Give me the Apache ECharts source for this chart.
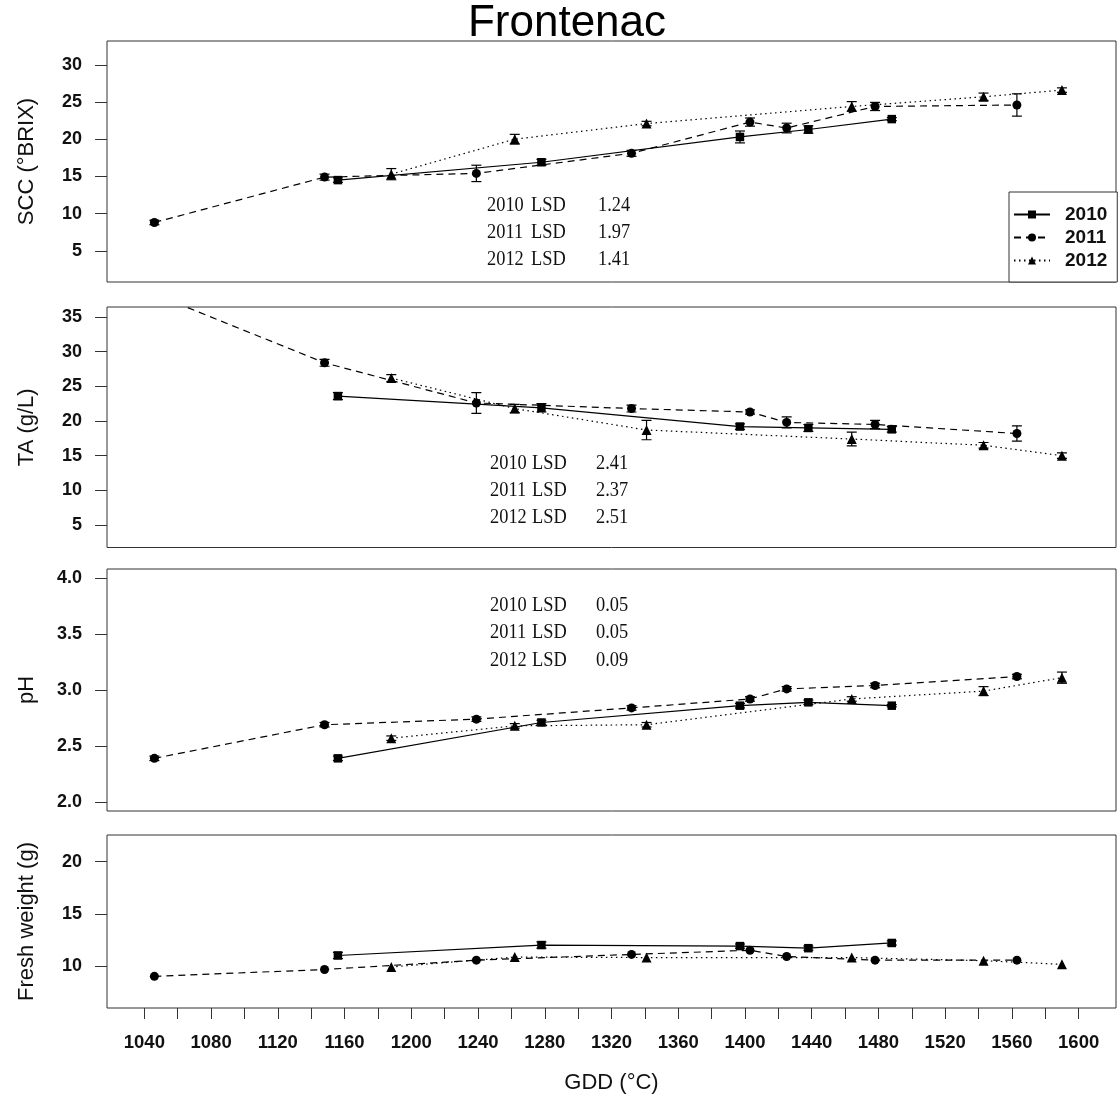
<!DOCTYPE html>
<html>
<head>
<meta charset="utf-8">
<title>Frontenac</title>
<script src="https://cdn.jsdelivr.net/npm/echarts@6/dist/echarts.min.js"></script>
<style>
  html, body { margin: 0; padding: 0; background: #fff; }
  #chart { width: 1120px; height: 1099px; }
</style>
</head>
<body>
<div id="chart"></div>
<script>
// Growing degree days (°C) at each sampling date, per season
const gdd2010 = [1156, 1278, 1397, 1438, 1488];
const gdd2011 = [1046, 1148, 1239, 1332, 1403, 1425, 1478, 1563];
const gdd2012 = [1188, 1262, 1341, 1464, 1543, 1590];

// Soluble solids (°Brix): means and standard errors
const scc2010 = [14.5, 16.9, 20.3, 21.3, 22.7];
const scc2011 = [8.8, 14.9, 15.4, 18.1, 22.3, 21.5, 24.4, 24.6];
const scc2012 = [15.3, 20.0, 22.1, 24.4, 25.7, 26.6];
const sccSe2010 = [0.3, 0.4, 0.8, 0.5, 0.2];
const sccSe2011 = [0.3, 0.4, 1.1, 0.4, 0.55, 0.65, 0.55, 1.5];
const sccSe2012 = [0.75, 0.65, 0.3, 0.65, 0.5, 0.3];

// Titratable acidity (g/L)
const ta2010 = [23.6, 21.9, 19.2, 19.0, 18.8];
const ta2011 = [38.3, 28.4, 22.6, 21.8, 21.3, 19.8, 19.5, 18.2];
const ta2012 = [26.2, 21.8, 18.7, 17.4, 16.5, 15.0];
const taSe2010 = [0.5, 0.6, 0.4, 0.5, 0.4];
const taSe2011 = [0.5, 0.5, 1.5, 0.5, 0.3, 0.8, 0.6, 1.1];
const taSe2012 = [0.5, 0.6, 1.4, 1.0, 0.4, 0.4];

// Juice pH
const ph2010 = [2.39, 2.71, 2.86, 2.89, 2.86];
const ph2011 = [2.39, 2.69, 2.74, 2.84, 2.92, 3.01, 3.04, 3.12];
const ph2012 = [2.57, 2.68, 2.69, 2.92, 2.99, 3.11];
const phSe2010 = [0.02, 0.02, 0.02, 0.02, 0.01];
const phSe2011 = [0.02, 0.02, 0.02, 0.02, 0.02, 0.02, 0.02, 0.02];
const phSe2012 = [0.02, 0.02, 0.02, 0.02, 0.04, 0.05];

// Berry fresh weight (g)
const fw2010 = [11.0, 12.0, 11.9, 11.7, 12.2];
const fw2011 = [9.0, 9.65, 10.55, 11.1, 11.5, 10.9, 10.55, 10.55];
const fw2012 = [9.9, 10.85, 10.8, 10.8, 10.5, 10.15];
const fwSe2010 = [0.3, 0.3, 0.2, 0.2, 0.2];
const fwSe2011 = [0, 0, 0, 0, 0, 0, 0, 0];
const fwSe2012 = [0, 0, 0, 0, 0, 0];

// Axis ticks and labels
const gddTicks = [1040, 1060, 1080, 1100, 1120, 1140, 1160, 1180, 1200, 1220, 1240, 1260, 1280, 1300,
                  1320, 1340, 1360, 1380, 1400, 1420, 1440, 1460, 1480, 1500, 1520, 1540, 1560, 1580, 1600];
const gddLabels = [1040, 1080, 1120, 1160, 1200, 1240, 1280, 1320, 1360, 1400, 1440, 1480, 1520, 1560, 1600];
const sccTicks = [5, 10, 15, 20, 25, 30];
const taTicks = [5, 10, 15, 20, 25, 30, 35];
const phTicks = [2.0, 2.5, 3.0, 3.5, 4.0];
const fwTicks = [10, 15, 20];

// Least significant differences printed in the panels
const lsdYears = ['2010', '2011', '2012'];
const sccLsd = ['1.24', '1.97', '1.41'];
const taLsd = ['2.41', '2.37', '2.51'];
const phLsd = ['0.05', '0.05', '0.09'];

const SANS = '"Liberation Sans", Arial, Helvetica, sans-serif';
const SERIF = '"Liberation Serif", "Times New Roman", serif';
const INK = '#111';

const years = [
  { name: '2010', gdd: gdd2010, symbol: 'rect', size: 8.5, dash: 'solid' },
  { name: '2011', gdd: gdd2011, symbol: 'circle', size: 9, dash: [7, 5] },
  { name: '2012', gdd: gdd2012, symbol: 'triangle', size: 10, dash: [1.5, 3.5] }
];

// Panel layout (pixels) and value ranges
const panels = [
  { label: 'SCC (°BRIX)', top: 41, height: 241, min: 0.8, max: 33.2, ticks: sccTicks,
    means: [scc2010, scc2011, scc2012], se: [sccSe2010, sccSe2011, sccSe2012], digits: 0 },
  { label: 'TA (g/L)', top: 307, height: 240.5, min: 1.75, max: 36.45, ticks: taTicks,
    means: [ta2010, ta2011, ta2012], se: [taSe2010, taSe2011, taSe2012], digits: 0 },
  { label: 'pH', top: 569, height: 242, min: 1.92, max: 4.08, ticks: phTicks,
    means: [ph2010, ph2011, ph2012], se: [phSe2010, phSe2011, phSe2012], digits: 1 },
  { label: 'Fresh weight (g)', top: 835, height: 173, min: 5.96, max: 22.56, ticks: fwTicks,
    means: [fw2010, fw2011, fw2012], se: [fwSe2010, fwSe2011, fwSe2012], digits: 0 }
];

const GRID_LEFT = 107, GRID_WIDTH = 1009;
const X_MIN = 1017.6, X_MAX = 1622.4;

const grid = [], xAxis = [], yAxis = [], series = [];

function renderErrorBar(params, api) {
  const x = api.value(0);
  const lo = api.coord([x, api.value(1)]);
  const hi = api.coord([x, api.value(2)]);
  const hw = 5;
  const style = { stroke: '#000', lineWidth: 1.2 };
  return {
    type: 'group',
    children: [
      { type: 'line', shape: { x1: lo[0], y1: lo[1], x2: hi[0], y2: hi[1] }, style },
      { type: 'line', shape: { x1: lo[0] - hw, y1: lo[1], x2: lo[0] + hw, y2: lo[1] }, style },
      { type: 'line', shape: { x1: hi[0] - hw, y1: hi[1], x2: hi[0] + hw, y2: hi[1] }, style }
    ]
  };
}

panels.forEach((p, i) => {
  const isBottom = i === panels.length - 1;
  grid.push({
    left: GRID_LEFT, top: p.top, width: GRID_WIDTH, height: p.height,
    show: true, borderColor: '#333', borderWidth: 1, backgroundColor: 'transparent'
  });
  xAxis.push({
    type: 'value', gridIndex: i, min: X_MIN, max: X_MAX, show: isBottom,
    name: isBottom ? 'GDD (°C)' : '', nameLocation: 'middle', nameGap: 64,
    nameTextStyle: { fontFamily: SANS, fontSize: 22, color: INK },
    axisLine: { show: false },
    splitLine: { show: false },
    axisTick: { show: true, length: 11, lineStyle: { color: '#333', width: 1 }, customValues: gddTicks },
    axisLabel: {
      customValues: gddLabels, margin: 25, fontFamily: SANS, fontWeight: 'bold', fontSize: 18.5, color: INK,
      formatter: v => String(v)
    }
  });
  yAxis.push({
    type: 'value', gridIndex: i, min: p.min, max: p.max,
    name: p.label, nameLocation: 'middle', nameGap: 69,
    nameTextStyle: { fontFamily: SANS, fontSize: 22, color: INK },
    axisLine: { show: false },
    splitLine: { show: false },
    axisTick: { show: true, length: 12, lineStyle: { color: '#333', width: 1 }, customValues: p.ticks },
    axisLabel: {
      customValues: p.ticks, margin: 25, fontFamily: SANS, fontWeight: 'bold', fontSize: 18, color: INK,
      formatter: v => Number(v).toFixed(p.digits)
    }
  });

  years.forEach((y, k) => {
    const means = p.means[k], se = p.se[k];
    series.push({
      name: y.name, type: 'line', xAxisIndex: i, yAxisIndex: i,
      data: y.gdd.map((g, j) => [g, means[j]]),
      symbol: y.symbol, symbolSize: y.size, showAllSymbol: true, clip: true,
      itemStyle: { color: '#000' },
      lineStyle: { color: '#000', width: 1.2, type: y.dash },
      emphasis: { disabled: true },
      z: 3
    });
    const bars = [];
    y.gdd.forEach((g, j) => {
      if (se[j] > 0) bars.push([g, means[j] - se[j], means[j] + se[j]]);
    });
    series.push({
      name: 'se-' + y.name + '-' + i, type: 'custom', xAxisIndex: i, yAxisIndex: i,
      renderItem: renderErrorBar, data: bars, clip: true, silent: true, z: 2
    });
  });
});

// Title and LSD annotations (three columns per line)
const graphic = [
  { type: 'text', x: 567, y: 24, style: { text: 'Frontenac', fontFamily: SANS, fontSize: 44, fill: '#000', textAlign: 'center', textVerticalAlign: 'middle' } }
];
const lsdBlocks = [
  { values: sccLsd, y0: 205.5, xs: [487, 531, 598] },
  { values: taLsd, y0: 463.3, xs: [490, 532, 596] },
  { values: phLsd, y0: 605.7, xs: [490, 532, 596] }
];
lsdBlocks.forEach(b => {
  b.values.forEach((v, r) => {
    const y = b.y0 + r * 27.3;
    [lsdYears[r], 'LSD', v].forEach((t, c) => {
      graphic.push({
        type: 'text', x: b.xs[c], y: y, scaleX: 0.92,
        style: { text: t, fontFamily: SERIF, fontSize: 20, fill: '#111', textAlign: 'left', textVerticalAlign: 'middle' }
      });
    });
  });
});

const chart = echarts.init(document.getElementById('chart'), null, { renderer: 'canvas' });
chart.setOption({
  animation: false,
  backgroundColor: '#fff',
  grid, xAxis, yAxis, series, graphic,
  legend: {
    data: ['2010', '2011', '2012'],
    orient: 'vertical',
    left: 1009, top: 192,
    padding: [13, 10, 12, 4],
    itemWidth: 36, itemHeight: 10, itemGap: 4,
    borderColor: '#333', borderWidth: 1, backgroundColor: '#fff',
    selectedMode: false,
    textStyle: { fontFamily: SANS, fontWeight: 'bold', fontSize: 19, lineHeight: 19, color: INK, padding: [0, 0, 0, 10] }
  }
});
</script>
</body>
</html>
